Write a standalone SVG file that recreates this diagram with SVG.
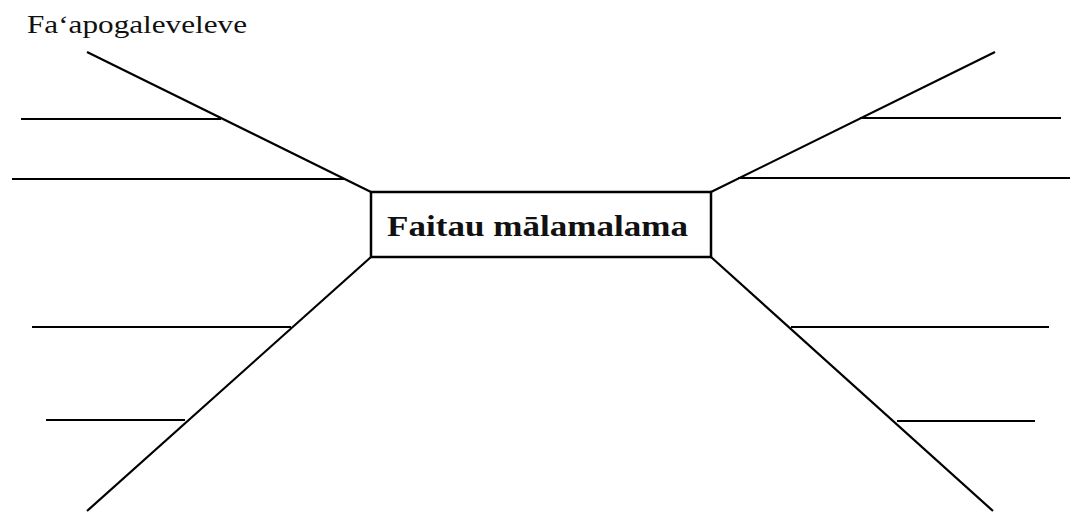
<svg xmlns="http://www.w3.org/2000/svg" width="1078" height="512" viewBox="0 0 1078 512">
<style>
.ln{stroke:#000;stroke-width:2.2;fill:none;stroke-linecap:butt}
.box{stroke:#000;stroke-width:2.5;fill:#fff}
.lbl{font-family:"Liberation Serif","DejaVu Serif",serif;font-size:25px;fill:#111}
.title{font-family:"Liberation Serif","DejaVu Serif",serif;font-size:29px;font-weight:bold;fill:#111}
</style>
<rect width="1078" height="512" fill="#fff"/>
<g id="connectors">
<line class="ln" x1="87" y1="52" x2="371" y2="192"/>
<line class="ln" x1="21" y1="119" x2="221" y2="119"/>
<line class="ln" x1="12" y1="179" x2="344" y2="179"/>
<line class="ln" x1="711" y1="192" x2="995" y2="52"/>
<line class="ln" x1="860" y1="118" x2="1061" y2="118"/>
<line class="ln" x1="738" y1="178" x2="1070" y2="178"/>
<line class="ln" x1="371" y1="257" x2="87" y2="511"/>
<line class="ln" x1="32" y1="327" x2="291" y2="327"/>
<line class="ln" x1="46" y1="420" x2="185" y2="420"/>
<line class="ln" x1="711" y1="257" x2="993" y2="511"/>
<line class="ln" x1="791" y1="327" x2="1049" y2="327"/>
<line class="ln" x1="897" y1="421" x2="1035" y2="421"/>
</g>
<g id="label">
<text class="lbl" x="27" y="33" textLength="220" lengthAdjust="spacingAndGlyphs">Fa‘apogaleveleve</text>
</g>
<g id="center">
<rect class="box" x="371" y="192" width="340" height="65"/>
<text class="title" x="387" y="236" textLength="301" lengthAdjust="spacingAndGlyphs">Faitau mālamalama</text>
</g>
</svg>
